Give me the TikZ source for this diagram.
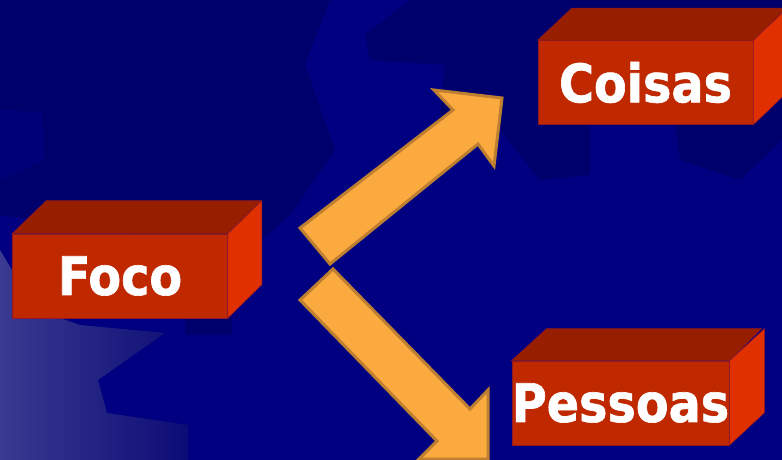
\documentclass[tikz,border=0pt]{standalone}
\usepackage{fontspec}
\setmainfont{DejaVu Sans Condensed}[BoldFeatures={FakeBold=1.2}]
\begin{document}
\begin{tikzpicture}[x=1pt,y=-1pt]
\definecolor{navy}{RGB}{0,0,128}
\definecolor{navydark}{RGB}{0,0,108}
\definecolor{navymid}{RGB}{0,0,120}
\definecolor{gradL}{RGB}{58,58,145}
\definecolor{gradR}{RGB}{12,12,118}
\definecolor{boxfront}{RGB}{192,40,0}
\definecolor{boxtop}{RGB}{152,30,0}
\definecolor{boxside}{RGB}{224,48,0}
\definecolor{boxedge}{RGB}{140,24,40}
\definecolor{arrowfill}{RGB}{251,170,64}
\definecolor{arrowline}{RGB}{190,128,48}
\tikzset{
  frontface/.style={fill=boxfront, draw=boxedge, line width=0.6pt,
    minimum width=215pt, minimum height=84pt, inner sep=0pt,
    text=white, font=\fontsize{53}{60}\selectfont\bfseries},
  topface/.style={fill=boxtop, draw=boxedge, line width=0.6pt},
  sideface/.style={fill=boxside, draw=boxedge, line width=0.6pt},
  blockarrow/.style={fill=arrowfill, draw=arrowline, line width=3pt, line join=miter},
  gear/.style={fill=navydark},
  gearmid/.style={fill=navymid}
}
\newcommand\cubefaces[3]{%
  \path[topface] (#1.north west) -- ++(#2,-#3) -- ++(215,0) -- (#1.north east) -- cycle;
  \path[sideface] (#1.north east) -- ++(#2,-#3) -- ++(0,84) -- (#1.south east) -- cycle;
}
\useasboundingbox (0,0) rectangle (782,460);
\clip (0,0) rectangle (782,460);
% background
\fill[navy] (0,0) rectangle (782,460);
\path[gear] (0,0) -- (330,0) -- (305,65) -- (335,150) -- (290,215) -- (250,250) -- (0,215) -- cycle;
\path[gearmid] (0,110) -- (42,112) -- (45,160) -- (0,180) -- cycle;
\path[gear] (410,0) -- (782,0) -- (782,140) -- (740,180) -- (680,160) -- (675,125)
  -- (590,125) -- (590,175) -- (540,180) -- (500,130) -- (440,115) -- (445,65)
  -- (370,60) -- (365,35) -- cycle;
\shade[left color=gradL, right color=gradR] (0,250) -- (30,300) -- (60,318) -- (80,325)
  -- (165,333) -- (98,380) -- (107,413) -- (188,425) -- (188,460) -- (0,460) -- cycle;
\path[gear] (185,316) rectangle (232,335);
% boxes
\node[frontface] (foco) at (120,276) {Foco};
\cubefaces{foco}{34}{33}
\node[frontface] (coisas) at (645.5,82.5) {Coisas};
\cubefaces{coisas}{34}{32}
\node[frontface] (pessoas) at (620.5,403) {Pessoas};
\cubefaces{pessoas}{35}{32}
% block arrows
\path[blockarrow] (300,228) -- (453,110) -- (434,90) -- (502,98) -- (494,166)
  -- (478,144) -- (330,264) -- cycle;
\path[blockarrow] (333,269) -- (470,409) -- (488,390) -- (488,459) -- (419,459)
  -- (437,441) -- (300,300) -- cycle;
\end{tikzpicture}
\end{document}
